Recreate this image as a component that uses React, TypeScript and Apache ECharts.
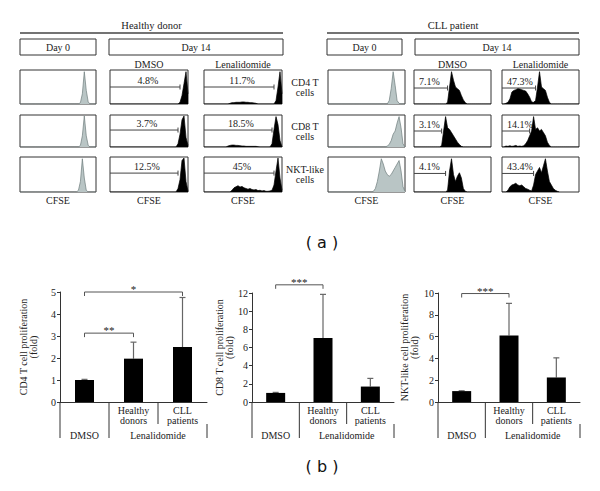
import React, { useEffect, useRef } from 'react';
import * as echarts from 'echarts';

const SERIF = "Liberation Serif, Times New Roman, serif";
const SANS = "DejaVu Sans, sans-serif";

// ---------- (a) CFSE histograms (40 bins each, relative height) ----------
// Healthy donor: Day 0, DMSO, Lenalidomide | CLL patient: Day 0, DMSO, Lenalidomide
const ROW_CD4 = [
  [0,0,0,0,0,0,0,0,0,0, 0,0,0,0,0,0,0,0,0,0, 0,0,0,0,0,0,0,0,0,0, 0,0.04,0.3,0.95,0.4,0.06,0,0,0,0],
  [0,0,0,0,0,0,0,0,0,0, 0,0,0,0,0,0,0,0,0,0, 0,0,0,0,0,0,0,0,0,0, 0,0,0,0,0,0.05,0.25,0.6,0.95,0.3],
  [0,0,0,0,0,0,0,0,0,0, 0,0,0,0.02,0.04,0.04,0.05,0.05,0.05,0.06, 0.06,0.05,0.05,0.04,0.04,0.03,0.02,0,0,0, 0,0,0,0,0,0,0.1,0.5,0.95,0.3],
  [0,0,0,0,0,0,0,0,0,0, 0,0,0,0,0,0,0,0,0,0, 0,0,0,0,0,0,0,0,0,0, 0,0.1,0.45,0.95,0.55,0.1,0.02,0,0,0],
  [0,0,0,0,0,0,0,0,0,0, 0,0,0,0,0,0,0,0.05,0.5,0.95, 0.7,0.5,0.45,0.4,0.25,0.12,0.04,0,0,0, 0,0,0,0,0,0,0,0,0,0],
  [0,0,0.02,0.05,0.15,0.35,0.4,0.42,0.45,0.44, 0.42,0.4,0.38,0.3,0.2,0.06,0.05,0.1,0.5,0.95, 0.5,0.45,0.4,0.2,0.05,0,0,0,0,0, 0,0,0,0,0,0,0,0,0,0],
];
const ROW_CD8 = [
  [0,0,0,0,0,0,0,0,0,0, 0,0,0,0,0,0,0,0,0,0, 0,0,0,0,0,0,0,0,0,0, 0,0.05,0.35,0.97,0.35,0.05,0,0,0,0],
  [0,0,0,0,0,0,0,0,0,0, 0,0,0,0,0,0,0,0,0,0, 0,0,0,0,0,0,0,0,0,0, 0,0,0,0,0.1,0.4,0.85,0.97,0.3,0.05],
  [0,0,0,0,0,0,0,0,0,0, 0,0,0.03,0.05,0.06,0.06,0.05,0.05,0.04,0.03, 0.03,0.02,0.02,0.02,0.02,0.02,0.02,0.01,0,0, 0,0,0,0,0.1,0.55,0.95,0.7,0.2,0],
  [0,0,0,0,0,0,0,0,0,0, 0,0,0,0,0,0,0,0,0,0, 0,0,0,0,0,0,0,0,0,0, 0.03,0.08,0.2,0.4,0.5,0.75,0.95,0.6,0.1,0],
  [0,0,0,0,0,0,0,0,0,0, 0,0,0,0,0.05,0.5,0.95,0.6,0.55,0.45, 0.35,0.25,0.15,0.08,0.02,0,0,0,0,0, 0,0,0,0,0,0,0,0,0,0],
  [0,0,0.03,0.02,0.04,0.02,0.03,0.05,0.02,0.03, 0.02,0.04,0.1,0.2,0.35,0.5,0.95,0.55,0.6,0.5, 0.55,0.45,0.35,0.15,0.05,0,0,0,0,0, 0,0,0,0,0,0,0,0,0,0],
];
const ROW_NKT = [
  [0,0,0,0,0,0,0,0,0,0, 0,0,0,0,0,0,0,0,0,0, 0,0,0,0,0,0,0,0,0,0, 0.05,0.3,0.95,0.4,0.05,0,0,0,0,0],
  [0,0,0,0,0,0,0,0,0,0, 0,0,0,0,0,0,0,0,0,0, 0,0,0,0,0,0,0,0,0,0, 0,0,0,0,0.1,0.35,0.9,0.97,0.3,0.02],
  [0,0,0,0,0,0,0,0,0,0, 0,0,0,0,0.05,0.12,0.15,0.18,0.14,0.16, 0.12,0.1,0.08,0.1,0.07,0.06,0.07,0.04,0.05,0.03, 0.04,0.02,0.02,0.03,0.05,0.2,0.6,0.97,0.4,0.05],
  [0,0,0,0,0,0,0,0,0,0, 0,0,0,0,0,0,0,0,0,0, 0,0,0,0.02,0.1,0.3,0.6,0.95,0.8,0.6, 0.5,0.45,0.5,0.6,0.7,0.8,0.9,0.6,0.15,0.02],
  [0,0,0,0,0,0,0,0,0,0, 0,0,0,0,0,0,0,0.05,0.6,0.95, 0.5,0.3,0.45,0.55,0.4,0.1,0.02,0,0,0, 0,0,0,0,0,0,0,0,0,0],
  [0,0,0,0.05,0.15,0.2,0.22,0.25,0.2,0.18, 0.2,0.15,0.1,0.08,0.05,0.03,0.2,0.5,0.6,0.7, 0.55,0.75,0.95,0.6,0.3,0.2,0.1,0.05,0.02,0],
];
const HIST_ROWS = [ROW_CD4, ROW_CD8, ROW_NKT];
const ROW_NAMES = ['CD4 T\ncells', 'CD8 T\ncells', 'NKT-like\ncells'];
const DONORS = ['Healthy donor', 'CLL patient'];
const CONDITIONS = ['DMSO', 'Lenalidomide'];

// gates: row, column, end bin, height, percentage
const GATES = [
  { row: 0, col: 1, end: 35, y: 0.5, label: '4.8%' },
  { row: 0, col: 2, end: 35, y: 0.5, label: '11.7%' },
  { row: 1, col: 1, end: 34, y: 0.53, label: '3.7%' },
  { row: 1, col: 2, end: 34, y: 0.53, label: '18.5%' },
  { row: 2, col: 1, end: 34, y: 0.54, label: '12.5%' },
  { row: 2, col: 2, end: 35, y: 0.54, label: '45%' },
  { row: 0, col: 4, end: 17, y: 0.47, label: '7.1%' },
  { row: 0, col: 5, end: 17, y: 0.47, label: '47.3%' },
  { row: 1, col: 4, end: 14, y: 0.5, label: '3.1%' },
  { row: 1, col: 5, end: 14, y: 0.5, label: '14.1%' },
  { row: 2, col: 4, end: 16, y: 0.53, label: '4.1%' },
  { row: 2, col: 5, end: 16, y: 0.53, label: '43.4%' },
];

// ---------- (b) bar charts ----------
const BAR_CATS = ['DMSO', 'Healthy donors', 'CLL patients'];
const TREATMENT_GROUPS = [{ name: 'DMSO', from: 0, to: 0 }, { name: 'Lenalidomide', from: 1, to: 2 }];

const CD4_MEAN = [1.0, 1.97, 2.5];
const CD4_UPPER = [1.03, 2.72, 4.75];
const CD4_SIG = [{ from: 0, to: 1, y: 3.13, label: '**' }, { from: 0, to: 2, y: 5.0, label: '*' }];

const CD8_MEAN = [1.0, 7.05, 1.7];
const CD8_UPPER = [1.06, 11.85, 2.6];
const CD8_SIG = [{ from: 0, to: 1, y: 12.9, label: '***' }];

const NKT_MEAN = [1.0, 6.1, 2.25];
const NKT_UPPER = [1.03, 9.05, 4.05];
const NKT_SIG = [{ from: 0, to: 1, y: 9.95, label: '***' }];

const BAR_SETS = [
  { name: 'CD4 T cell proliferation\n(fold)', max: 5, interval: 1, mean: CD4_MEAN, upper: CD4_UPPER, sig: CD4_SIG },
  { name: 'CD8 T cell proliferation\n(fold)', max: 12, interval: 2, mean: CD8_MEAN, upper: CD8_UPPER, sig: CD8_SIG },
  { name: 'NKT-like cell proliferation\n(fold)', max: 10, interval: 2, mean: NKT_MEAN, upper: NKT_UPPER, sig: NKT_SIG },
];

// ---------- layout ----------
const COL_X = [20, 110, 204, 328, 414, 502];
const COL_W = [76, 78, 78, 77, 77, 77];
const ROW_Y = [70, 115, 157];
const ROW_H = [34, 32, 35];
const BAR_LAYOUT = [
  { left: 60, top: 292, width: 147, height: 110, nameGap: 22 },
  { left: 252, top: 293, width: 142, height: 109, nameGap: 18 },
  { left: 438, top: 293, width: 142, height: 109, nameGap: 19 },
];

const tstyle = (text: string, x: number, y: number, align: string, valign: string, size = 10, family = SERIF, fill = '#222', lh = size + 1) => ({
  text, x, y, fill, fontSize: size, fontFamily: family,
  textAlign: align, textVerticalAlign: valign, align, verticalAlign: valign, lineHeight: lh,
});

function buildOption() {
  const grids: any[] = [];
  const xAxes: any[] = [];
  const yAxes: any[] = [];
  const series: any[] = [];
  const BIN_IDX = ROW_CD4[0].map((_, i) => String(i));

  HIST_ROWS.forEach((row, r) => {
    row.forEach((bins, c) => {
      const gi = grids.length;
      grids.push({ left: COL_X[c], top: ROW_Y[r], width: COL_W[c], height: ROW_H[r], show: true, borderColor: '#333', borderWidth: 1, backgroundColor: '#fff' });
      xAxes.push({ gridIndex: gi, type: 'category', data: BIN_IDX, boundaryGap: false, show: false });
      yAxes.push({ gridIndex: gi, type: 'value', min: 0, max: 1, show: false });
      const gray = c === 0 || c === 3;
      series.push({
        type: 'line', xAxisIndex: gi, yAxisIndex: gi, data: bins, symbol: 'none', silent: true,
        lineStyle: { width: 0.7, color: gray ? '#6f7c7c' : '#000' },
        areaStyle: { color: gray ? '#b9c5c5' : '#000', opacity: 1 },
      });
    });
  });

  GATES.forEach((g) => {
    const gi = g.row * 6 + g.col;
    const healthy = g.col < 3;
    series.push({
      type: 'custom', xAxisIndex: gi, yAxisIndex: gi, data: [[g.end, g.y]], clip: false, silent: true,
      renderItem: (params: any, api: any) => {
        const p0 = api.coord([0, api.value(1)]);
        const p1 = api.coord([api.value(0), api.value(1)]);
        const tx = healthy ? (p0[0] + p1[0]) / 2 + 3 : p0[0] + 5;
        return {
          type: 'group',
          children: [
            { type: 'line', shape: { x1: p0[0], y1: p0[1], x2: p1[0], y2: p1[1] }, style: { stroke: '#444', lineWidth: 1 } },
            { type: 'line', shape: { x1: p1[0], y1: p1[1] - 2.5, x2: p1[0], y2: p1[1] + 2.5 }, style: { stroke: '#444', lineWidth: 1 } },
            { type: 'text', style: tstyle(g.label, tx, p0[1] - 1, healthy ? 'center' : 'left', 'bottom', 10) },
          ],
        };
      },
    });
  });

  BAR_SETS.forEach((bs, k) => {
    const L = BAR_LAYOUT[k];
    const gi = grids.length;
    grids.push({ left: L.left, top: L.top, width: L.width, height: L.height });
    xAxes.push({
      gridIndex: gi, type: 'category', data: BAR_CATS,
      axisLine: { lineStyle: { color: '#333', width: 1 } }, axisTick: { show: false },
      axisLabel: { interval: 0, fontSize: 10, lineHeight: 10, margin: 3, color: '#222', fontFamily: SERIF,
        formatter: (v: string) => (v === 'DMSO' ? '' : v.replace(' ', '\n')) },
    });
    yAxes.push({
      gridIndex: gi, type: 'value', min: 0, max: bs.max, interval: bs.interval,
      name: bs.name, nameLocation: 'middle', nameRotate: 90, nameGap: L.nameGap,
      nameTextStyle: { fontSize: 10, lineHeight: 10, fontFamily: SERIF, color: '#222' },
      axisLine: { show: true, lineStyle: { color: '#333', width: 1 } },
      axisTick: { show: true, inside: false, length: 3, lineStyle: { color: '#333' } },
      axisLabel: { fontSize: 10, margin: 4, color: '#222', fontFamily: SERIF },
      splitLine: { show: false },
    });
    series.push({ type: 'bar', xAxisIndex: gi, yAxisIndex: gi, data: bs.mean, barWidth: 19, itemStyle: { color: '#000' }, silent: true });
    series.push({
      type: 'custom', xAxisIndex: gi, yAxisIndex: gi, clip: false, silent: true,
      data: bs.mean.map((m, i) => [i, m, bs.upper[i]]),
      renderItem: (params: any, api: any) => {
        const a = api.coord([api.value(0), api.value(1)]);
        const b = api.coord([api.value(0), api.value(2)]);
        return {
          type: 'group', children: [
            { type: 'line', shape: { x1: a[0], y1: a[1], x2: b[0], y2: b[1] }, style: { stroke: '#666', lineWidth: 1.2 } },
            { type: 'line', shape: { x1: b[0] - 3, y1: b[1], x2: b[0] + 3, y2: b[1] }, style: { stroke: '#666', lineWidth: 1.2 } },
          ],
        };
      },
    });
    series.push({
      type: 'custom', xAxisIndex: gi, yAxisIndex: gi, clip: false, silent: true,
      data: bs.sig.map((s) => [s.from, s.to, s.y]),
      renderItem: (params: any, api: any) => {
        const s = bs.sig[params.dataIndex];
        const a = api.coord([api.value(0), api.value(2)]);
        const b = api.coord([api.value(1), api.value(2)]);
        return {
          type: 'group', children: [
            { type: 'polyline', shape: { points: [[a[0], a[1] + 4], [a[0], a[1]], [b[0], b[1]], [b[0], b[1] + 4]] }, style: { stroke: '#555', lineWidth: 1, fill: null } },
            { type: 'text', style: tstyle(s.label, (a[0] + b[0]) / 2, a[1] + 3, 'center', 'bottom', 11) },
          ],
        };
      },
    });
    series.push({
      type: 'custom', xAxisIndex: gi, yAxisIndex: gi, clip: false, silent: true,
      data: [[0, 0]],
      renderItem: (params: any, api: any) => {
        const p = api.coord([0, 0]);
        const bw = api.size([1, 0])[0];
        const left = p[0] - bw / 2;
        const y0 = p[1];
        const V = (x: number, ya: number, yb: number) => ({ type: 'line', shape: { x1: x, y1: ya, x2: x, y2: yb }, style: { stroke: '#333', lineWidth: 1 } });
        const children: any[] = [V(left, y0, y0 + 36), V(left + bw, y0, y0 + 36), V(left + 2 * bw, y0, y0 + 22), V(left + 3 * bw, y0 + 22, y0 + 36)];
        TREATMENT_GROUPS.forEach((g) => {
          children.push({ type: 'text', style: tstyle(g.name, left + ((g.from + g.to + 1) / 2) * bw, y0 + 33, 'center', 'middle', 10) });
        });
        return { type: 'group', children };
      },
    });
  });

  // header graphics for (a)
  const G: any[] = [];
  const text = (t: string, x: number, y: number, size = 10, family = SERIF, fill = '#222') =>
    G.push({ type: 'text', x, y, style: tstyle(t, 0, 0, 'center', 'middle', size, family, fill, size) });
  const hline = (x1: number, x2: number, y: number) =>
    G.push({ type: 'line', shape: { x1, y1: y, x2, y2: y }, style: { stroke: '#444', lineWidth: 1.5 } });
  const box = (x: number, y: number, w: number, h: number, t: string) => {
    G.push({ type: 'rect', shape: { x, y, width: w, height: h }, style: { fill: 'none', stroke: '#333', lineWidth: 1 } });
    text(t, x + w / 2, y + h / 2);
  };
  [[20, 283], [327, 579]].forEach(([a, b], d) => {
    text(DONORS[d], (a + b) / 2, 25, 10.5);
    hline(a, b, 33);
  });
  box(20, 39, 76, 16, 'Day 0');
  box(109, 39, 174, 16, 'Day 14');
  box(327, 39, 75, 16, 'Day 0');
  box(415, 39, 164, 16, 'Day 14');
  [1, 2, 4, 5].forEach((c) => text(CONDITIONS[(c - 1) % 3], COL_X[c] + COL_W[c] / 2, 64));
  ROW_NAMES.forEach((n, r) => text(n, 305, ROW_Y[r] + ROW_H[r] / 2));
  COL_X.forEach((x, c) => text('CFSE', x + COL_W[c] / 2, 200));
  text('( a )', 322, 242, 16, SANS, '#111');
  text('( b )', 322, 466, 16, SANS, '#111');

  return {
    animation: false,
    backgroundColor: '#fff',
    grid: grids,
    xAxis: xAxes,
    yAxis: yAxes,
    series,
    graphic: G,
  };
}

export default function App() {
  const ref = useRef<HTMLDivElement>(null);
  useEffect(() => {
    document.body.style.margin = '0';
    const chart = echarts.init(ref.current!, null, { renderer: 'svg' });
    chart.setOption(buildOption() as any);
    return () => chart.dispose();
  }, []);
  return <div ref={ref} style={{ width: 600, height: 491, background: '#fff' }} />;
}
